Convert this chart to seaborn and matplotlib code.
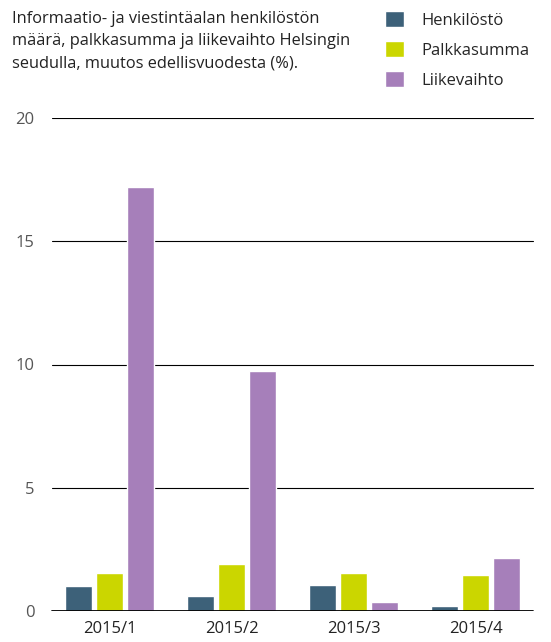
import pandas as pd
import seaborn as sns
import matplotlib.pyplot as plt

periods = ["2015/1", "2015/2", "2015/3", "2015/4"]
series = ["Henkilöstö", "Palkkasumma", "Liikevaihto"]
henkilosto = [1.0, 0.6, 1.05, 0.2]
palkkasumma = [1.55, 1.9, 1.55, 1.45]
liikevaihto = [17.2, 9.75, 0.35, 2.15]
colors = ["#3d6179", "#cbd600", "#a67fba"]
title = ("Informaatio- ja viestintäalan henkilöstön\n"
         "määrä, palkkasumma ja liikevaihto Helsingin\n"
         "seudulla, muutos edellisvuodesta (%).")

df = pd.DataFrame({
    "period": periods * 3,
    "series": [s for s in series for _ in periods],
    "value": henkilosto + palkkasumma + liikevaihto,
})

sns.set_style("white")
plt.rcParams["font.family"] = ["Open Sans", "DejaVu Sans"]

W, H = 551, 642
fig = plt.figure(figsize=(W / 100, H / 100), dpi=100)
# axes spans 48.5..536.5 px so the groups sit where the reference puts them
ax = fig.add_axes([48.5 / W, 31 / H, 488 / W, 493 / H])

sns.barplot(data=df, x="period", y="value", hue="series", palette=colors,
            width=0.762, gap=0.13, ax=ax, saturation=1)

ax.set_ylim(0, 20)
ax.set_yticks([0, 5, 10, 15, 20])
ax.set_xlabel("")
ax.set_ylabel("")
sns.despine(ax=ax, left=True, bottom=True)

# horizontal rules, slightly inset from the axes edges
x0, x1 = 3.5 / 488, 484.5 / 488
ax.axhline(0, xmin=x0, xmax=x1, color="black", lw=1.3, zorder=3)
for y in [5, 10, 15, 20]:
    ax.axhline(y, xmin=x0, xmax=x1, color="black", lw=0.8, zorder=0)

ax.tick_params(axis="y", length=0, labelsize=12, labelcolor="#555555", pad=10)
ax.tick_params(axis="x", length=0, labelsize=12, labelcolor="#222222", pad=7)

fig.text(12 / W, 1 - 11 / H, title, ha="left", va="top", fontsize=11.8,
         color="#222222", linespacing=1.5)

ax.legend(loc="upper left", bbox_to_anchor=(385 / W, 1 - 11 / H),
          bbox_transform=fig.transFigure, frameon=False, fontsize=12,
          handlelength=1.14, handleheight=1.14, handletextpad=1.05,
          labelspacing=0.72, borderpad=0, borderaxespad=0)

fig.savefig("out.png", dpi=100)
